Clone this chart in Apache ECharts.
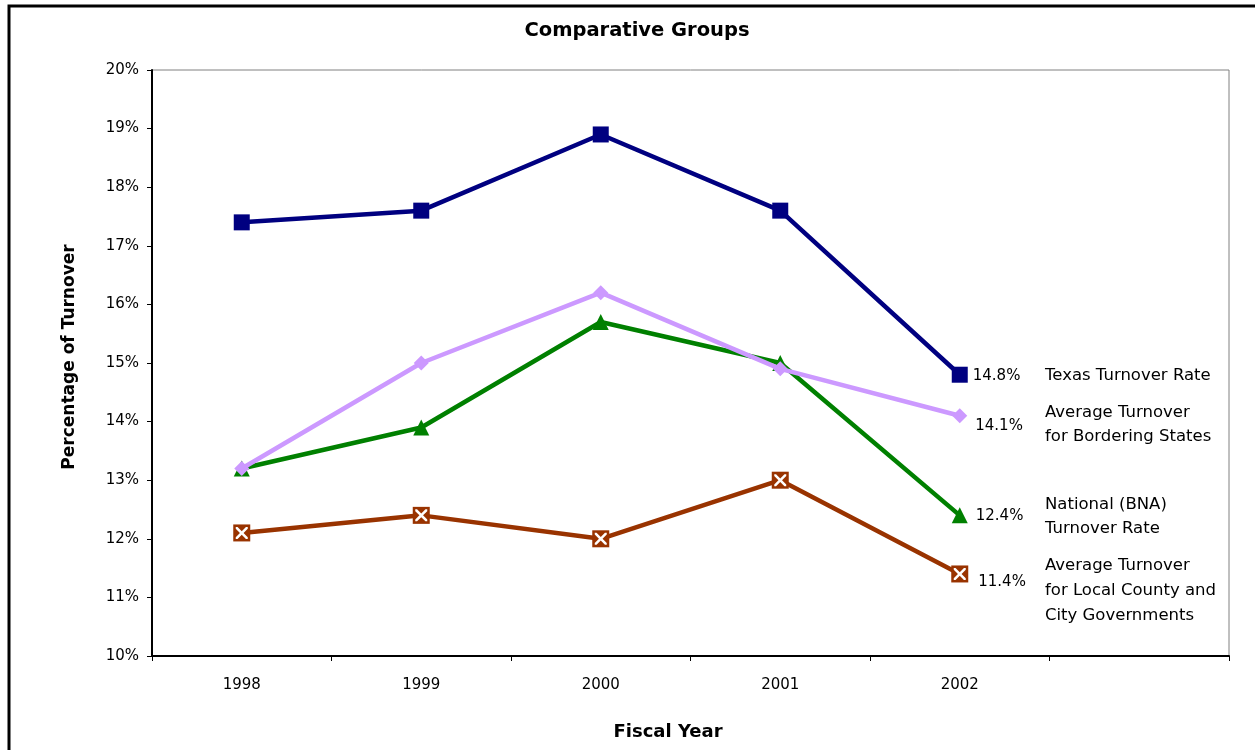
<!DOCTYPE html>
<html><head><meta charset="utf-8">
<script src="https://cdn.jsdelivr.net/npm/echarts@6/dist/echarts.min.js"></script>
<style>html,body{margin:0;padding:0;background:#fff}#c{width:1255px;height:750px}</style>
</head><body><div id="c"></div>
<script>
const years = ['1998','1999','2000','2001','2002',''];
const texas = [17.4, 17.6, 18.9, 17.6, 14.8];
const bordering = [13.2, 15.0, 16.2, 14.9, 14.1];
const national = [13.2, 13.9, 15.7, 15.0, 12.4];
const local = [12.1, 12.4, 12.0, 13.0, 11.4];
const seriesNames = ['Texas Turnover Rate', 'Average Turnover\nfor Bordering States', 'National (BNA)\nTurnover Rate', 'Average Turnover\nfor Local County and\nCity Governments'];

const FONT = 'DejaVu Sans';
const chart = echarts.init(document.getElementById('c'));

function lastLabel(arr, offset) {
  return arr.map((v, i) => i === arr.length - 1 ? {value: v, label: {show: true, position: 'right', distance: 8, offset: offset, formatter: p => p.value.toFixed(1) + '%', fontFamily: FONT, fontSize: 15, color: '#000'}} : v);
}
const X = 'path://M0,0 L3,0 L10,7 L17,0 L20,0 L20,3 L13,10 L20,17 L20,20 L17,20 L10,13 L3,20 L0,20 L0,17 L7,10 L0,3 Z';
const NAMEFONT = '16.5px "DejaVu Sans"';

chart.setOption({
  animation: false,
  textStyle: {fontFamily: FONT},
  title: {text: 'Comparative Groups', left: 632, top: 16, textAlign: 'center',
    textStyle: {fontFamily: FONT, fontSize: 19.5, fontWeight: 'bold', color: '#000'}},
  grid: {left: 152, right: 26, top: 70, bottom: 94, show: true, borderColor: '#808080', borderWidth: 1},
  xAxis: {type: 'category', data: years, boundaryGap: true,
    axisLine: {lineStyle: {color: '#000', width: 2}},
    axisTick: {show: true, length: 5, lineStyle: {color: '#000'}},
    axisLabel: {fontFamily: FONT, fontSize: 15, color: '#000', margin: 22},
    splitLine: {show: false}},
  yAxis: {type: 'value', min: 10, max: 20, interval: 1,
    axisLine: {show: true, lineStyle: {color: '#000', width: 2}},
    axisTick: {show: true, length: 5, lineStyle: {color: '#000'}},
    axisLabel: {fontFamily: FONT, fontSize: 15, color: '#000', margin: 13, formatter: '{value}%'},
    splitLine: {show: false}},
  graphic: [
    {type: 'rect', shape: {x: 9, y: 6, width: 1400, height: 1000}, style: {fill: 'none', stroke: '#000', lineWidth: 3}, z: 100},
    {type: 'text', left: 1045, top: 364, style: {text: seriesNames[0], font: NAMEFONT, fill: '#000', lineHeight: 24}},
    {type: 'text', left: 1045, top: 401, style: {text: seriesNames[1], font: NAMEFONT, fill: '#000', lineHeight: 24}},
    {type: 'text', left: 1045, top: 493, style: {text: seriesNames[2], font: NAMEFONT, fill: '#000', lineHeight: 24}},
    {type: 'text', left: 1045, top: 553, style: {text: seriesNames[3], font: NAMEFONT, fill: '#000', lineHeight: 25}},
    {type: 'text', x: 70, y: 357, rotation: Math.PI / 2, style: {text: 'Percentage of Turnover', font: 'bold 17px "DejaVu Sans"', fill: '#000', align: 'center', verticalAlign: 'middle'}},
    {type: 'text', x: 668, y: 732, style: {text: 'Fiscal Year', font: 'bold 18px "DejaVu Sans"', fill: '#000', align: 'center', verticalAlign: 'middle'}}
  ],
  series: [
    {name: 'Local', type: 'line', data: lastLabel(local, [2, 8]), symbol: 'rect', symbolSize: 17,
      lineStyle: {color: '#993300', width: 4.5}, itemStyle: {color: '#993300'}, z: 2},
    {name: 'LocalX', type: 'line', data: local, symbol: X, symbolSize: 12, silent: true,
      lineStyle: {width: 0, opacity: 0}, itemStyle: {color: '#fff'}, z: 3},
    {name: 'National', type: 'line', data: lastLabel(national, [0, 1]), symbol: 'triangle', symbolSize: 16,
      lineStyle: {color: '#008000', width: 4.5}, itemStyle: {color: '#008000'}, z: 4},
    {name: 'Bordering', type: 'line', data: lastLabel(bordering, [0, 10]), symbol: 'diamond', symbolSize: 15,
      lineStyle: {color: '#CC99FF', width: 4.5}, itemStyle: {color: '#CC99FF'}, z: 5},
    {name: 'Texas', type: 'line', data: lastLabel(texas, [-3, 1]), symbol: 'rect', symbolSize: 16,
      lineStyle: {color: '#000080', width: 4.5}, itemStyle: {color: '#000080'}, z: 6}
  ]
});
</script></body></html>
